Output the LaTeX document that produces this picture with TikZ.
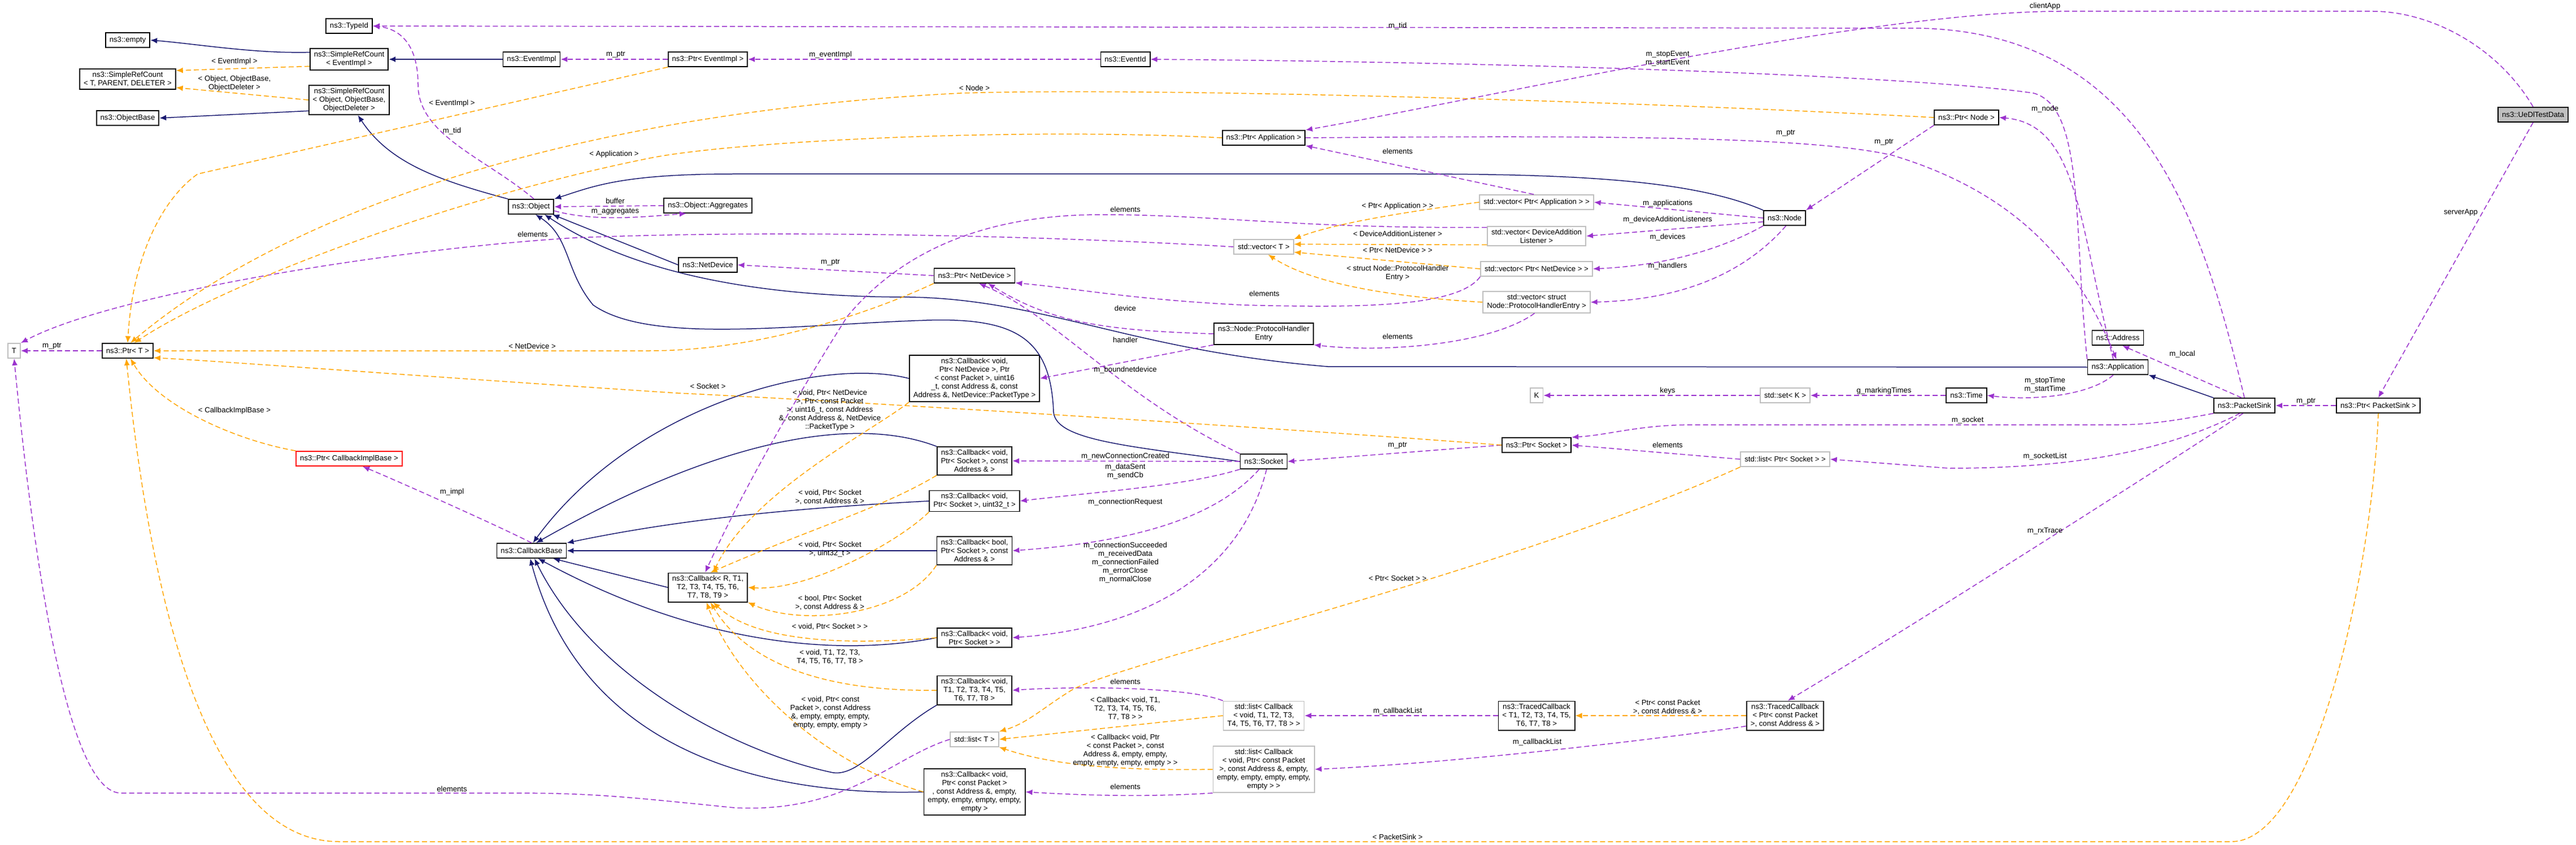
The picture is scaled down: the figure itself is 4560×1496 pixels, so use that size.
\documentclass[tikz,border=0pt]{standalone}
\usepackage{fontspec}
\setmainfont{Liberation Sans}
\usetikzlibrary{arrows.meta}

\definecolor{inhblue}{RGB}{25,25,112}
\definecolor{usepurple}{RGB}{154,50,205}
\definecolor{tplorange}{RGB}{255,165,0}
\definecolor{stdgray}{RGB}{191,191,191}

\tikzset{
	cls/.style={draw=black, line width=0.035cm, fill=white, inner xsep=0.14cm, inner ysep=0.1cm, minimum height=0.52cm, align=center, font=\fontsize{7.5}{8.54}\selectfont},
	stdcls/.style={cls, draw=stdgray},
	redcls/.style={cls, draw=red},
	maincls/.style={cls, fill=stdgray},
	lbl/.style={inner sep=0pt, align=center, font=\fontsize{7.5}{8.54}\selectfont},
	inh/.style={draw=inhblue, line width=0.03cm, -{Latex[length=0.24cm,width=0.2cm]}},
	use/.style={draw=usepurple, line width=0.03cm, dash pattern=on 0.18cm off 0.1cm, -{Latex[length=0.24cm,width=0.2cm]}},
	tpl/.style={draw=tplorange, line width=0.03cm, dash pattern=on 0.18cm off 0.1cm, -{Latex[length=0.24cm,width=0.2cm]}}
}

\begin{document}
\begin{tikzpicture}[x=0.02cm, y=-0.02cm]
	
	\useasboundingbox (0,0) rectangle (4560,1496);
	
	% classes
	\node[cls] (typeid) at (618,46) {ns3::TypeId};
	\node[cls] (empty) at (226,71) {ns3::empty};
	\node[cls] (srcT) at (226,140) {ns3::SimpleRefCount\\< T, PARENT, DELETER >};
	\node[cls] (objbase) at (226,209) {ns3::ObjectBase};
	\node[cls] (srcEv) at (618,105) {ns3::SimpleRefCount\\< EventImpl >};
	\node[cls] (srcObj) at (618,177) {ns3::SimpleRefCount\\< Object, ObjectBase,\\ObjectDeleter >};
	\node[cls] (evimpl) at (941,105) {ns3::EventImpl};
	\node[cls] (ptrEv) at (1253,105) {ns3::Ptr< EventImpl >};
	\node[cls] (eventid) at (1992,105) {ns3::EventId};
	\node[cls] (object) at (940,366) {ns3::Object};
	\node[cls] (aggr) at (1253,364) {ns3::Object::Aggregates};
	\node[cls] (netdev) at (1253,469) {ns3::NetDevice};
	\node[cls] (ptrApp) at (2237,244) {ns3::Ptr< Application >};
	\node[stdcls] (vecT) at (2237,437) {std::vector< T >};
	\node[cls] (ptrND) at (1725,488) {ns3::Ptr< NetDevice >};
	\node[cls] (phe) at (2237,591) {ns3::Node::ProtocolHandler\\Entry};
	\node[cls] (cbND) at (1725,670) {ns3::Callback< void,\\Ptr< NetDevice >, Ptr\\< const Packet >, uint16\\\_t, const Address \&, const\\Address \&, NetDevice::PacketType >};
	\node[stdcls] (tT) at (25,621) {T};
	\node[cls] (ptrT) at (226,621) {ns3::Ptr< T >};
	\node[redcls] (ptrImpl) at (618,812) {ns3::Ptr< CallbackImplBase >};
	\node[cls] (cbBase) at (941,975) {ns3::CallbackBase};
	\node[cls] (cbSA) at (1725,816) {ns3::Callback< void,\\Ptr< Socket >, const\\Address \& >};
	\node[cls] (socket) at (2237,817) {ns3::Socket};
	\node[cls] (cbSU) at (1725,887) {ns3::Callback< void,\\Ptr< Socket >, uint32\_t >};
	\node[cls] (cbBool) at (1725,975) {ns3::Callback< bool,\\Ptr< Socket >, const\\Address \& >};
	\node[cls] (cbR) at (1253,1040) {ns3::Callback< R, T1,\\T2, T3, T4, T5, T6,\\T7, T8, T9 >};
	\node[cls] (cbS) at (1725,1129) {ns3::Callback< void,\\Ptr< Socket > >};
	\node[cls] (cbT8) at (1725,1222) {ns3::Callback< void,\\T1, T2, T3, T4, T5,\\T6, T7, T8 >};
	\node[stdcls] (listT) at (1725,1309) {std::list< T >};
	\node[cls] (cbPkt) at (1725,1402) {ns3::Callback< void,\\Ptr< const Packet >\\, const Address \&, empty,\\empty, empty, empty, empty,\\empty >};
	\node[stdcls] (listCB8) at (2237,1267) {std::list< Callback\\< void, T1, T2, T3,\\T4, T5, T6, T7, T8 > >};
	\node[stdcls] (listCBP) at (2237,1362) {std::list< Callback\\< void, Ptr< const Packet\\>, const Address \&, empty,\\empty, empty, empty, empty,\\empty > >};
	\node[stdcls] (vecApp) at (2720,358) {std::vector< Ptr< Application > >};
	\node[stdcls] (vecDAL) at (2720,418) {std::vector< DeviceAddition\\Listener >};
	\node[stdcls] (vecND) at (2720,476) {std::vector< Ptr< NetDevice > >};
	\node[stdcls] (vecPHE) at (2720,535) {std::vector< struct\\Node::ProtocolHandlerEntry >};
	\node[cls] (node) at (3159,386) {ns3::Node};
	\node[cls] (ptrNode) at (3481,208) {ns3::Ptr< Node >};
	\node[stdcls] (kK) at (2720,700) {K};
	\node[stdcls] (setK) at (3160,700) {std::set< K >};
	\node[cls] (time) at (3481,700) {ns3::Time};
	\node[cls] (ptrSock) at (2720,788) {ns3::Ptr< Socket >};
	\node[stdcls] (listPS) at (3160,813) {std::list< Ptr< Socket > >};
	\node[cls] (tc8) at (2720,1267) {ns3::TracedCallback\\< T1, T2, T3, T4, T5,\\T6, T7, T8 >};
	\node[cls] (tcP) at (3160,1267) {ns3::TracedCallback\\< Ptr< const Packet\\>, const Address \& >};
	\node[maincls] (uedl) at (4484,203) {ns3::UeDlTestData};
	\node[cls] (address) at (3749,598) {ns3::Address};
	\node[cls] (app) at (3749,650) {ns3::Application};
	\node[cls] (sink) at (3973,718) {ns3::PacketSink};
	\node[cls] (ptrSink) at (4210,718) {ns3::Ptr< PacketSink >};
	
	% inheritance
	\draw[inh] (srcEv.170) .. controls (450,95) and (350,78) .. (empty.east);
	\draw[inh] (srcObj.-165) -- (objbase.east);
	\draw[inh] (evimpl.west) -- (srcEv.east);
	\draw[inh] (object.north west) .. controls (780,320) and (690,290) .. (srcObj.-60);
	\draw[inh] (netdev.west) -- (object.-20);
	\draw[inh] (node.north west) .. controls (3000,320) and (2800,308) .. (2500,308) -- (1300,308) .. controls (1100,308) and (1050,330) .. (object.north east);
	\draw[inh] (app.west) -- (2350,649) .. controls (2000,620) and (1850,530) .. (1610,526) .. controls (1300,526) and (1100,470) .. (object.-30);
	\draw[inh] (socket.west) .. controls (2000,790) and (1870,780) .. (1865,730) .. controls (1860,600) and (1800,562) .. (1640,567) .. controls (1400,575) and (1150,610) .. (1050,540) .. controls (1000,480) and (1010,420) .. (object.-60);
	\draw[inh] (sink.north west) -- (app.south east);
	\draw[inh] (cbND.west) .. controls (1450,630) and (1120,720) .. (cbBase.80);
	\draw[inh] (cbSA.north west) .. controls (1500,730) and (1250,790) .. (cbBase.60);
	\draw[inh] (cbSU.west) .. controls (1400,900) and (1200,920) .. (cbBase.north east);
	\draw[inh] (cbBool.west) -- (cbBase.east);
	\draw[inh] (cbR.west) -- (cbBase.-20);
	\draw[inh] (cbS.west) .. controls (1500,1160) and (1250,1150) .. (cbBase.-50);
	\draw[inh] (cbT8.south west) .. controls (1570,1300) and (1520,1380) .. (1470,1367) .. controls (1300,1330) and (1050,1200) .. (cbBase.-70);
	\draw[inh] (cbPkt.west) .. controls (1350,1410) and (1030,1330) .. (cbBase.-100);
	
	% usage
	\draw[use] (object.70) .. controls (860,280) and (740,240) .. (740,150) .. controls (740,70) and (700,50) .. (typeid.east);
	\draw[use] (ptrEv.west) -- (evimpl.east);
	\draw[use] (eventid.west) -- (ptrEv.east);
	\draw[use] (aggr.west) -- (object.east);
	\draw[use] (object.-10) .. controls (1050,392) and (1130,385) .. (aggr.-160);
	\draw[use] (ptrND.west) -- (netdev.east);
	\draw[use] (vecT.west) .. controls (1900,420) and (1400,405) .. (1018,421) .. controls (700,440) and (200,520) .. (tT.north east);
	\draw[use] (ptrT.west) -- (tT.east);
	\draw[use] (listT.west) .. controls (1580,1340) and (1500,1440) .. (1300,1430) .. controls (1100,1410) and (1050,1404) .. (900,1404) -- (214,1404) .. controls (120,1404) and (60,1000) .. (tT.south);
	\draw[use] (cbBase.north) .. controls (880,930) and (700,850) .. (ptrImpl.-30);
	\draw[use] (vecDAL.170) .. controls (2300,405) and (2150,380) .. (1950,380) .. controls (1750,380) and (1600,440) .. (1500,560) .. controls (1380,750) and (1300,900) .. (cbR.100);
	\draw[use] (vecND.south west) .. controls (2580,545) and (2400,545) .. (2200,540) .. controls (2000,530) and (1900,510) .. (ptrND.-10);
	\draw[use] (phe.west) .. controls (1950,585) and (1860,570) .. (ptrND.-30);
	\draw[use] (phe.south west) -- (cbND.east);
	\draw[use] (vecPHE.-100) .. controls (2640,610) and (2450,625) .. (phe.south east);
	\draw[use] (socket.north west) .. controls (1980,700) and (1870,560) .. (ptrND.-60);
	\draw[use] (socket.west) -- (cbSA.east);
	\draw[use] (socket.south west) .. controls (2100,860) and (1950,870) .. (cbSU.east);
	\draw[use] (socket.-120) .. controls (2150,920) and (2000,960) .. (cbBool.east);
	\draw[use] (socket.-70) .. controls (2200,1000) and (2050,1110) .. (cbS.east);
	\draw[use] (ptrSock.west) -- (socket.east);
	\draw[use] (listPS.west) -- (ptrSock.east);
	\draw[use] (listCB8.north west) .. controls (2100,1215) and (1900,1215) .. (cbT8.east);
	\draw[use] (listCBP.south west) .. controls (2050,1410) and (1950,1410) .. (cbPkt.east);
	\draw[use] (tc8.west) -- (listCB8.east);
	\draw[use] (tcP.-165) .. controls (3000,1300) and (2600,1350) .. (listCBP.east);
	\draw[use] (sink.-100) .. controls (3900,780) and (3400,1100) .. (tcP.80);
	\draw[use] (sink.south west) .. controls (3850,745) and (3800,752) .. (3750,752) -- (3000,752) .. controls (2900,752) and (2850,770) .. (ptrSock.north east);
	\draw[use] (sink.-120) .. controls (3850,790) and (3700,829) .. (3450,829) -- (listPS.east);
	\draw[use] (app.-120) .. controls (3700,700) and (3600,710) .. (time.east);
	\draw[use] (time.west) -- (setK.east);
	\draw[use] (setK.west) -- (kK.east);
	\draw[use] (app.north west) .. controls (3670,400) and (3690,190) .. (3600,165) .. controls (3400,135) and (2700,110) .. (eventid.east);
	\draw[use] (app.120) .. controls (3680,400) and (3680,220) .. (ptrNode.east);
	\draw[use] (ptrNode.south west) -- (node.north east);
	\draw[use] (ptrApp.east) .. controls (2800,240) and (3200,240) .. (3350,275) .. controls (3600,350) and (3690,500) .. (app.100);
	\draw[use] (vecApp.110) -- (ptrApp.south east);
	\draw[use] (node.west) -- (vecApp.east);
	\draw[use] (node.-170) -- (vecDAL.east);
	\draw[use] (node.south west) .. controls (3050,440) and (2950,470) .. (vecND.east);
	\draw[use] (node.-80) .. controls (3100,470) and (3000,530) .. (vecPHE.east);
	\draw[use] (sink.north) .. controls (3900,400) and (3800,60) .. (3400,50) -- (typeid.east);
	\draw[use] (uedl.north) .. controls (4420,80) and (4300,20) .. (4200,20) -- (3650,20) .. controls (3300,20) and (2600,180) .. (ptrApp.north east);
	\draw[use] (uedl.south) -- (ptrSink.north);
	\draw[use] (ptrSink.west) -- (sink.east);
	\draw[use] (sink.110) -- (address.-60);
	
	% template instances
	\draw[tpl] (srcEv.-170) -- (srcT.10);
	\draw[tpl] (srcObj.west) -- (srcT.-10);
	\draw[tpl] (ptrEv.south west) -- (350,308) .. controls (290,350) and (235,450) .. (ptrT.north);
	\draw[tpl] (ptrNode.west) .. controls (2800,175) and (2000,155) .. (1700,165) .. controls (1000,200) and (500,380) .. (ptrT.70);
	\draw[tpl] (ptrApp.west) .. controls (1800,225) and (1300,250) .. (1150,280) .. controls (800,350) and (400,500) .. (ptrT.50);
	\draw[tpl] (ptrND.south west) .. controls (1550,550) and (1350,621) .. (1150,621) -- (ptrT.east);
	\draw[tpl] (ptrSock.west) .. controls (2300,760) and (1500,710) .. (1200,696) .. controls (800,670) and (400,640) .. (ptrT.-15);
	\draw[tpl] (ptrImpl.north west) .. controls (420,780) and (280,720) .. (ptrT.-70);
	\draw[tpl] (ptrSink.south) .. controls (4200,1000) and (4100,1490) .. (3950,1490) -- (600,1490) .. controls (350,1490) and (260,1000) .. (ptrT.-100);
	\draw[tpl] (vecApp.west) .. controls (2450,380) and (2350,400) .. (vecT.north east);
	\draw[tpl] (vecDAL.-170) -- (vecT.5);
	\draw[tpl] (vecND.west) -- (vecT.-10);
	\draw[tpl] (vecPHE.west) .. controls (2450,525) and (2320,500) .. (vecT.-60);
	\draw[tpl] (cbND.south west) .. controls (1550,760) and (1330,870) .. (cbR.70);
	\draw[tpl] (cbSA.south west) .. controls (1560,900) and (1450,930) .. (cbR.80);
	\draw[tpl] (cbSU.south west) .. controls (1590,960) and (1430,1047) .. (cbR.east);
	\draw[tpl] (cbBool.south west) .. controls (1600,1090) and (1420,1110) .. (cbR.south east);
	\draw[tpl] (cbS.west) .. controls (1470,1145) and (1330,1130) .. (cbR.-70);
	\draw[tpl] (cbT8.west) .. controls (1450,1225) and (1320,1170) .. (cbR.-80);
	\draw[tpl] (cbPkt.west) .. controls (1450,1350) and (1300,1200) .. (cbR.-95);
	\draw[tpl] (listPS.south west) .. controls (2700,1000) and (2000,1170) .. (1900,1220) .. controls (1850,1250) and (1820,1280) .. (listT.north east);
	\draw[tpl] (listCB8.west) -- (listT.east);
	\draw[tpl] (listCBP.west) .. controls (1950,1365) and (1850,1350) .. (listT.south east);
	\draw[tpl] (tcP.west) -- (tc8.east);
	
	% labels
	\node[lbl] (lEv1) at (415,109) {< EventImpl >};
	\node[lbl] (lObjDel) at (415,148) {< Object, ObjectBase,\\ObjectDeleter >};
	\node[lbl] (lEv2) at (800,183) {< EventImpl >};
	\node[lbl] (lTid1) at (800,232) {m\_tid};
	\node[lbl] (lApp) at (1087,273) {< Application >};
	\node[lbl] (lBuf) at (1089,356) {buffer};
	\node[lbl] (lAggr) at (1089,375) {m\_aggregates};
	\node[lbl] (lElemT) at (943,415) {elements};
	\node[lbl] (lPtrT) at (92,613) {m\_ptr};
	\node[lbl] (lND) at (942,613) {< NetDevice >};
	\node[lbl] (lImplB) at (415,727) {< CallbackImplBase >};
	\node[lbl] (lPtrEv) at (1090,97) {m\_ptr};
	\node[lbl] (lImpl) at (800,871) {m\_impl};
	\node[lbl] (lElemL) at (800,1397) {elements};
	\node[lbl] (lEvImpl) at (1470,97) {m\_eventImpl};
	\node[lbl] (lNode) at (1725,156) {< Node >};
	\node[lbl] (lElemDAL) at (1992,371) {elements};
	\node[lbl] (lPtrND) at (1470,465) {m\_ptr};
	\node[lbl] (lElemND) at (2238,520) {elements};
	\node[lbl] (lDev) at (1992,546) {device};
	\node[lbl] (lHand) at (1992,602) {handler};
	\node[lbl] (lBound) at (1992,655) {m\_boundnetdevice};
	\node[lbl] (lSock) at (1253,684) {< Socket >};
	\node[lbl] (lCbND) at (1469,726) {< void, Ptr< NetDevice\\>, Ptr< const Packet\\>, uint16\_t, const Address\\\&, const Address \&, NetDevice\\::PacketType >};
	\node[lbl] (lNew) at (1992,808) {m\_newConnectionCreated};
	\node[lbl] (lSent) at (1992,835) {m\_dataSent\\m\_sendCb};
	\node[lbl] (lReq) at (1992,889) {m\_connectionRequest};
	\node[lbl] (lSucc) at (1992,996) {m\_connectionSucceeded\\m\_receivedData\\m\_connectionFailed\\m\_errorClose\\m\_normalClose};
	\node[lbl] (lCbSA) at (1469,880) {< void, Ptr< Socket\\>, const Address \& >};
	\node[lbl] (lCbSU) at (1469,973) {< void, Ptr< Socket\\>, uint32\_t >};
	\node[lbl] (lCbBool) at (1469,1067) {< bool, Ptr< Socket\\>, const Address \& >};
	\node[lbl] (lCbS) at (1469,1110) {< void, Ptr< Socket > >};
	\node[lbl] (lCbT8) at (1469,1163) {< void, T1, T2, T3,\\T4, T5, T6, T7, T8 >};
	\node[lbl] (lCbPkt) at (1470,1262) {< void, Ptr< const\\Packet >, const Address\\\&, empty, empty, empty,\\empty, empty, empty >};
	\node[lbl] (lElemCB8) at (1992,1207) {elements};
	\node[lbl] (lLCB8) at (1992,1255) {< Callback< void, T1,\\T2, T3, T4, T5, T6,\\T7, T8 > >};
	\node[lbl] (lLCBP) at (1992,1329) {< Callback< void, Ptr\\< const Packet >, const\\Address \&, empty, empty,\\empty, empty, empty, empty > >};
	\node[lbl] (lElemCBP) at (1992,1393) {elements};
	\node[lbl] (lTid2) at (2474,46) {m\_tid};
	\node[lbl] (lStopEv) at (2952,104) {m\_stopEvent\\m\_startEvent};
	\node[lbl] (lPtrApp) at (3161,236) {m\_ptr};
	\node[lbl] (lPtrNode) at (3335,252) {m\_ptr};
	\node[lbl] (lElemApp) at (2474,268) {elements};
	\node[lbl] (lVApp) at (2474,365) {< Ptr< Application > >};
	\node[lbl] (lApps) at (2952,360) {m\_applications};
	\node[lbl] (lDALs) at (2952,389) {m\_deviceAdditionListeners};
	\node[lbl] (lVDAL) at (2474,414) {< DeviceAdditionListener >};
	\node[lbl] (lDevs) at (2952,420) {m\_devices};
	\node[lbl] (lVND) at (2474,443) {< Ptr< NetDevice > >};
	\node[lbl] (lVPHE) at (2474,484) {< struct Node::ProtocolHandler\\Entry >};
	\node[lbl] (lHands) at (2952,471) {m\_handlers};
	\node[lbl] (lElemPHE) at (2474,596) {elements};
	\node[lbl] (lKeys) at (2952,692) {keys};
	\node[lbl] (lMark) at (3335,692) {g\_markingTimes};
	\node[lbl] (lSocket) at (3483,744) {m\_socket};
	\node[lbl] (lPtrSock) at (2474,789) {m\_ptr};
	\node[lbl] (lElemPS) at (2952,788) {elements};
	\node[lbl] (lLPS) at (2474,1024) {< Ptr< Socket > >};
	\node[lbl] (lCbl1) at (2474,1259) {m\_callbackList};
	\node[lbl] (lTcP) at (2952,1252) {< Ptr< const Packet\\>, const Address \& >};
	\node[lbl] (lCbl2) at (2721,1314) {m\_callbackList};
	\node[lbl] (lSink) at (2474,1482) {< PacketSink >};
	\node[lbl] (lClient) at (3620,11) {clientApp};
	\node[lbl] (lNodeM) at (3620,193) {m\_node};
	\node[lbl] (lServer) at (4356,376) {serverApp};
	\node[lbl] (lLocal) at (3863,627) {m\_local};
	\node[lbl] (lTimes) at (3620,682) {m\_stopTime\\m\_startTime};
	\node[lbl] (lPtrSink) at (4082,711) {m\_ptr};
	\node[lbl] (lSockList) at (3620,808) {m\_socketList};
	\node[lbl] (lRx) at (3620,940) {m\_rxTrace};
	
\end{tikzpicture}
\end{document}
